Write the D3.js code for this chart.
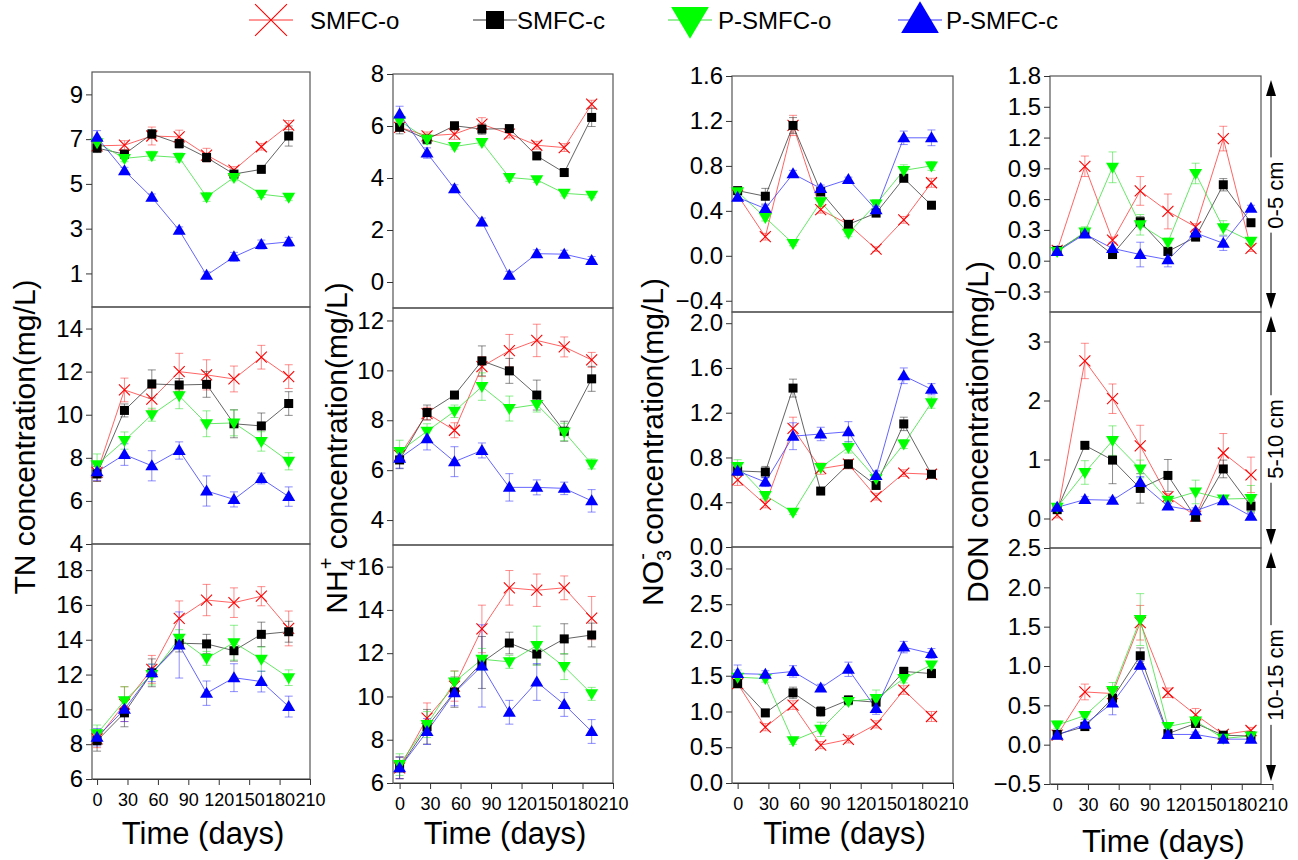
<html>
<head>
<meta charset="utf-8">
<script src="https://cdn.jsdelivr.net/npm/d3@7"></script>
<style>
    body { margin: 0; background: white; }
    text { font-family: Arial, "Liberation Sans", sans-serif; fill: black; }
    .axis path, .axis line { stroke: #333; stroke-width: 1; }
    rect.frame { fill: none; stroke: #555; stroke-width: 1.2; }
</style>
</head>
<body>
<script>
// ---- data ----
var series = ["SMFC-o", "SMFC-c", "P-SMFC-o", "P-SMFC-c"];
var days = [0, 27, 54, 81, 108, 135, 162, 189];
var xTicks = [0, 30, 60, 90, 120, 150, 180, 210];
var depths = ["0-5 cm", "5-10 cm", "10-15 cm"];

// TN
var tn_0_5 = [[6.7, 6.73, 7.14, 7.1, 6.29, 5.62, 6.66, 7.63],
              [6.6, 6.33, 7.23, 6.8, 6.18, 5.44, 5.65, 7.14],
              [6.84, 6.14, 6.26, 6.18, 4.42, 5.29, 4.54, 4.4],
              [7.08, 5.59, 4.4, 2.93, 0.92, 1.74, 2.29, 2.41]];
var tn_0_5_sd = [[0.2, 0.2, 0.4, 0.3, 0.3, 0.15, 0.15, 0.2],
                 [0.2, 0.15, 0.2, 0.2, 0.2, 0.1, 0.1, 0.45],
                 [0.25, 0.15, 0.2, 0.2, 0.2, 0.15, 0.15, 0.15],
                 [0.3, 0.15, 0.15, 0.15, 0.15, 0.2, 0.2, 0.2]];
var tn_5_10 = [[7.32, 11.15, 10.72, 12.0, 11.85, 11.66, 12.67, 11.77],
               [7.25, 10.2, 11.43, 11.38, 11.41, 9.58, 9.48, 10.52],
               [7.68, 8.8, 10.0, 10.88, 9.58, 9.62, 8.76, 7.84],
               [7.35, 8.15, 7.63, 8.34, 6.46, 6.07, 7.04, 6.2]];
var tn_5_10_sd = [[0.4, 0.55, 0.5, 0.85, 0.7, 0.6, 0.55, 0.55],
                  [0.35, 0.3, 0.65, 0.3, 0.6, 0.65, 0.6, 0.55],
                  [0.5, 0.4, 0.3, 0.6, 0.6, 0.6, 0.45, 0.4],
                  [0.4, 0.5, 0.7, 0.4, 0.7, 0.35, 0.25, 0.45]];
var tn_10_15 = [[8.3, 10.3, 12.3, 15.23, 16.28, 16.13, 16.5, 14.65],
                [8.2, 9.8, 12.1, 13.8, 13.76, 13.37, 14.31, 14.46],
                [8.6, 10.5, 12.0, 14.08, 12.93, 13.83, 12.88, 11.82],
                [8.4, 10.0, 12.1, 13.7, 10.93, 11.82, 11.6, 10.16]];
var tn_10_15_sd = [[0.5, 1.0, 0.8, 1.0, 0.9, 0.85, 0.55, 1.0],
                   [0.6, 0.8, 0.8, 0.5, 0.55, 0.6, 0.7, 0.6],
                   [0.5, 0.8, 0.6, 0.5, 0.4, 1.0, 0.7, 0.45],
                   [0.5, 0.7, 0.5, 1.9, 0.7, 0.8, 0.6, 0.6]];

// NH4+
var nh4_0_5 = [[5.95, 5.62, 5.69, 6.07, 5.69, 5.26, 5.17, 6.84],
               [5.95, 5.49, 6.01, 5.88, 5.9, 4.85, 4.21, 6.33],
               [6.2, 5.49, 5.21, 5.37, 4.02, 3.93, 3.41, 3.34],
               [6.46, 4.96, 3.59, 2.31, 0.26, 1.09, 1.07, 0.83]];
var nh4_0_5_sd = [[0.15, 0.15, 0.2, 0.25, 0.15, 0.15, 0.15, 0.15],
                  [0.25, 0.15, 0.1, 0.2, 0.1, 0.1, 0.1, 0.35],
                  [0.2, 0.2, 0.1, 0.1, 0.15, 0.1, 0.1, 0.1],
                  [0.3, 0.2, 0.15, 0.15, 0.15, 0.15, 0.15, 0.15]];
var nh4_5_10 = [[6.59, 8.27, 7.6, 10.15, 10.79, 11.2, 10.94, 10.42],
                [6.41, 8.31, 9.01, 10.38, 9.98, 9.01, 7.56, 9.66],
                [6.75, 7.56, 8.36, 9.35, 8.47, 8.63, 7.53, 6.25],
                [6.48, 7.26, 6.34, 6.79, 5.31, 5.31, 5.27, 4.77]];
var nh4_5_10_sd = [[0.3, 0.25, 0.3, 0.4, 0.65, 0.65, 0.4, 0.3],
                   [0.35, 0.3, 0.1, 0.6, 0.5, 0.6, 0.4, 0.5],
                   [0.45, 0.3, 0.25, 0.55, 0.5, 0.3, 0.35, 0.2],
                   [0.4, 0.45, 0.6, 0.3, 0.55, 0.3, 0.25, 0.45]];
var nh4_10_15 = [[6.7, 9.0, 10.48, 13.12, 15.02, 14.91, 15.02, 13.62],
                 [6.7, 8.6, 10.2, 11.57, 12.47, 11.96, 12.66, 12.84],
                 [6.85, 8.7, 10.67, 11.72, 11.6, 12.35, 11.38, 10.12],
                 [6.7, 8.38, 10.17, 11.41, 9.27, 10.67, 9.63, 8.38]];
var nh4_10_15_sd = [[0.5, 0.7, 0.7, 1.1, 0.8, 0.75, 0.55, 1.0],
                    [0.5, 0.8, 0.7, 1.2, 0.5, 0.5, 0.7, 0.55],
                    [0.5, 0.6, 0.5, 0.5, 0.3, 0.9, 0.6, 0.3],
                    [0.5, 0.6, 0.6, 1.9, 0.55, 0.85, 0.55, 0.55]];

// NO3-
var no3_0_5 = [[0.54, 0.17, 1.16, 0.41, 0.28, 0.06, 0.32, 0.65],
               [0.58, 0.53, 1.16, 0.57, 0.28, 0.38, 0.69, 0.45],
               [0.57, 0.34, 0.11, 0.48, 0.2, 0.46, 0.76, 0.8],
               [0.52, 0.42, 0.73, 0.6, 0.68, 0.41, 1.05, 1.05]];
var no3_0_5_sd = [[0.03, 0.03, 0.09, 0.03, 0.03, 0.02, 0.03, 0.04],
                  [0.03, 0.07, 0.07, 0.04, 0.03, 0.03, 0.03, 0.02],
                  [0.03, 0.03, 0.02, 0.04, 0.03, 0.04, 0.05, 0.04],
                  [0.03, 0.03, 0.03, 0.03, 0.02, 0.03, 0.06, 0.07]];
var no3_5_10 = [[0.6, 0.38, 1.06, 0.7, 0.74, 0.45, 0.66, 0.65],
                [0.68, 0.67, 1.42, 0.5, 0.74, 0.55, 1.1, 0.65],
                [0.72, 0.46, 0.31, 0.71, 0.89, 0.61, 0.92, 1.29],
                [0.68, 0.58, 0.99, 1.01, 1.03, 0.64, 1.53, 1.41]];
var no3_5_10_sd = [[0.05, 0.03, 0.1, 0.05, 0.04, 0.03, 0.03, 0.03],
                   [0.03, 0.05, 0.08, 0.03, 0.04, 0.03, 0.06, 0.03],
                   [0.06, 0.03, 0.02, 0.03, 0.05, 0.04, 0.04, 0.05],
                   [0.04, 0.04, 0.12, 0.06, 0.09, 0.04, 0.07, 0.05]];
var no3_10_15 = [[1.39, 0.78, 1.09, 0.53, 0.61, 0.82, 1.3, 0.93],
                 [1.39, 0.98, 1.26, 1.0, 1.16, 1.13, 1.56, 1.53],
                 [1.48, 1.46, 0.59, 0.75, 1.14, 1.18, 1.46, 1.65],
                 [1.53, 1.52, 1.56, 1.33, 1.59, 1.04, 1.9, 1.81]];
var no3_10_15_sd = [[0.05, 0.05, 0.06, 0.05, 0.05, 0.05, 0.06, 0.07],
                    [0.06, 0.05, 0.08, 0.07, 0.06, 0.05, 0.06, 0.05],
                    [0.1, 0.05, 0.05, 0.1, 0.05, 0.12, 0.06, 0.05],
                    [0.12, 0.05, 0.08, 0.05, 0.1, 0.08, 0.08, 0.07]];

// DON
var don_0_5 = [[0.1, 0.92, 0.2, 0.68, 0.48, 0.33, 1.19, 0.12],
               [0.1, 0.27, 0.06, 0.38, 0.09, 0.23, 0.74, 0.37],
               [0.09, 0.28, 0.91, 0.35, 0.18, 0.85, 0.32, 0.19],
               [0.09, 0.26, 0.12, 0.06, 0.01, 0.27, 0.17, 0.51]];
var don_0_5_sd = [[0.03, 0.1, 0.03, 0.14, 0.17, 0.03, 0.12, 0.03],
                  [0.03, 0.03, 0.02, 0.05, 0.03, 0.03, 0.06, 0.03],
                  [0.03, 0.05, 0.15, 0.1, 0.04, 0.1, 0.07, 0.03],
                  [0.03, 0.03, 0.06, 0.12, 0.07, 0.03, 0.07, 0.03]];
var don_5_10 = [[0.06, 2.67, 2.03, 1.23, 0.37, 0.04, 1.11, 0.74],
                [0.15, 1.24, 0.99, 0.51, 0.73, 0.02, 0.84, 0.21],
                [0.19, 0.78, 1.32, 0.84, 0.31, 0.45, 0.33, 0.34],
                [0.19, 0.32, 0.31, 0.61, 0.21, 0.13, 0.3, 0.04]];
var don_5_10_sd = [[0.05, 0.3, 0.25, 0.35, 0.05, 0.05, 0.33, 0.3],
                   [0.05, 0.05, 0.4, 0.25, 0.27, 0.03, 0.15, 0.1],
                   [0.05, 0.2, 0.25, 0.15, 0.05, 0.2, 0.05, 0.22],
                   [0.05, 0.05, 0.05, 0.1, 0.05, 0.05, 0.05, 0.05]];
var don_10_15 = [[0.12, 0.67, 0.65, 1.55, 0.66, 0.38, 0.13, 0.18],
                 [0.13, 0.23, 0.59, 1.13, 0.14, 0.27, 0.12, 0.11],
                 [0.25, 0.37, 0.69, 1.59, 0.23, 0.3, 0.08, 0.11],
                 [0.12, 0.26, 0.53, 1.01, 0.13, 0.13, 0.07, 0.07]];
var don_10_15_sd = [[0.05, 0.1, 0.05, 0.22, 0.06, 0.08, 0.03, 0.04],
                    [0.03, 0.03, 0.1, 0.1, 0.03, 0.03, 0.03, 0.03],
                    [0.05, 0.05, 0.1, 0.33, 0.05, 0.05, 0.03, 0.03],
                    [0.03, 0.03, 0.15, 0.05, 0.03, 0.03, 0.03, 0.03]];

// y ranges and ticks, per column then per depth row
var yDomains = [[[-0.5, 10], [4, 15], [6, 19.5]],
                [[-1, 8], [3, 12.5], [6, 17]],
                [[-0.5, 1.6], [0, 2.1], [0, 3.3]],
                [[-0.5, 1.8], [-0.5, 3.5], [-0.5, 2.5]]];
var yTicks = [[[1, 3, 5, 7, 9], [4, 6, 8, 10, 12, 14], [6, 8, 10, 12, 14, 16, 18]],
              [[0, 2, 4, 6, 8], [4, 6, 8, 10, 12], [6, 8, 10, 12, 14, 16]],
              [[-0.4, 0, 0.4, 0.8, 1.2, 1.6], [0, 0.4, 0.8, 1.2, 1.6, 2.0], [0, 0.5, 1, 1.5, 2, 2.5, 3]],
              [[-0.3, 0, 0.3, 0.6, 0.9, 1.2, 1.5, 1.8], [0, 1, 2, 3], [-0.5, 0, 0.5, 1, 1.5, 2, 2.5]]];
var yFormats = [["d", "d", "d"], ["d", "d", "d"], [".1f", ".1f", ".1f"], [".1f", "d", ".1f"]];

var panelData = [[tn_0_5, tn_5_10, tn_10_15],
                 [nh4_0_5, nh4_5_10, nh4_10_15],
                 [no3_0_5, no3_5_10, no3_10_15],
                 [don_0_5, don_5_10, don_10_15]];
var panelSd = [[tn_0_5_sd, tn_5_10_sd, tn_10_15_sd],
               [nh4_0_5_sd, nh4_5_10_sd, nh4_10_15_sd],
               [no3_0_5_sd, no3_5_10_sd, no3_10_15_sd],
               [don_0_5_sd, don_5_10_sd, don_10_15_sd]];

// ---- layout ----
var colors = ["#ff0000", "#000000", "#00ff00", "#0000ff"];
var lineColors = ["#ff3030", "#303030", "#30e030", "#3030ff"];

// frame left/right, x value at left edge, pixel of day 210, row edges
var cols = [
    {left: 92,   right: 310,  x0: -5,   x210: 310,    rows: [72, 307, 544, 779]},
    {left: 393,  right: 613,  x0: -6.5, x210: 613,    rows: [74, 308, 545, 783]},
    {left: 732,  right: 953,  x0: -5.5, x210: 953,    rows: [76, 312, 547, 783]},
    {left: 1050, right: 1261, x0: -7,   x210: 1272.5, rows: [76, 312, 548, 784]}
];

var svg = d3.select("body").append("svg")
    .attr("width", 1298)
    .attr("height", 860);

svg.append("rect").attr("width", 1298).attr("height", 860).attr("fill", "white");

/*
 * Draw one marker of series k centred at (cx, cy), scaled by s
 */
function drawMarker(g, k, cx, cy, s)
{
    if (k == 0)
    {
        var r = 5.5 * s;
        g.append("path")
            .attr("d", "M" + (cx - r) + "," + (cy - r) + "L" + (cx + r) + "," + (cy + r) +
                       "M" + (cx - r) + "," + (cy + r) + "L" + (cx + r) + "," + (cy - r))
            .attr("fill", "none")
            .attr("stroke", colors[0])
            .attr("stroke-width", 1.1);
    }
    else if (k == 1)
    {
        var a = 9 * s;
        g.append("rect")
            .attr("x", cx - a / 2).attr("y", cy - a / 2)
            .attr("width", a).attr("height", a)
            .attr("fill", colors[1]);
    }
    else
    {
        var w = 6.5 * s, h1 = 4.5 * s, h2 = 6.5 * s;
        var pts = (k == 2)
            ? [[cx - w, cy - h1], [cx + w, cy - h1], [cx, cy + h2]]
            : [[cx - w, cy + h1], [cx + w, cy + h1], [cx, cy - h2]];
        g.append("path")
            .attr("d", "M" + pts.join("L") + "Z")
            .attr("fill", colors[k]);
    }
}

// ---- panels ----
cols.forEach(function(col, c)
{
    var x = d3.scaleLinear().domain([col.x0, 210]).range([col.left, col.x210]);

    for (var r = 0; r < 3; r++)
    {
        var top = col.rows[r], bottom = col.rows[r + 1];
        var y = d3.scaleLinear().domain(yDomains[c][r]).range([bottom, top]);
        var g = svg.append("g").attr("class", "panel");

        g.append("rect")
            .attr("class", "frame")
            .attr("x", col.left).attr("y", top)
            .attr("width", col.right - col.left).attr("height", bottom - top);

        var ya = g.append("g")
            .attr("class", "axis")
            .attr("transform", "translate(" + col.left + ",0)")
            .call(d3.axisLeft(y).tickValues(yTicks[c][r]).tickFormat(d3.format(yFormats[c][r]))
                    .tickSize(6).tickSizeOuter(0).tickPadding(3));
        ya.selectAll("text").style("font-size", "24px").attr("font-family", null);
        ya.select(".domain").remove();

        if (r == 2)
        {
            var xa = g.append("g")
                .attr("class", "axis")
                .attr("transform", "translate(0," + bottom + ")")
                .call(d3.axisBottom(x).tickValues(xTicks).tickSize(6).tickSizeOuter(0).tickPadding(8));
            xa.selectAll("text").style("font-size", "18px").attr("font-family", null);
        }

        var vals = panelData[c][r], sds = panelSd[c][r];
        for (var k = 0; k < 4; k++)
        {
            var pts = days.map(function(d, i) { return [d, vals[k][i], sds[k][i]]; });

            // error bars
            var eg = g.append("g").attr("stroke", lineColors[k]).attr("stroke-opacity", 0.55).attr("stroke-width", 1);
            pts.forEach(function(p)
            {
                var px = x(p[0]), yl = y(p[1] - p[2]), yh = y(p[1] + p[2]);
                eg.append("line").attr("x1", px).attr("x2", px).attr("y1", yl).attr("y2", yh);
                eg.append("line").attr("x1", px - 4).attr("x2", px + 4).attr("y1", yl).attr("y2", yl);
                eg.append("line").attr("x1", px - 4).attr("x2", px + 4).attr("y1", yh).attr("y2", yh);
            });

            g.append("path")
                .datum(pts)
                .attr("fill", "none")
                .attr("stroke", lineColors[k])
                .attr("stroke-opacity", 0.75)
                .attr("stroke-width", 1)
                .attr("d", d3.line().x(function(p) { return x(p[0]); }).y(function(p) { return y(p[1]); }));
        }
        for (var k = 0; k < 4; k++)
        {
            days.forEach(function(d, i) { drawMarker(g, k, x(d), y(vals[k][i]), 1); });
        }
    }

    // x axis title
    svg.append("text")
        .attr("x", (col.left + col.x210) / 2 + 2)
        .attr("y", c == 3 ? 852 : 844)
        .attr("text-anchor", "middle")
        .style("font-size", "31px")
        .text("Time (days)");
});

// ---- y axis titles (with sub/superscripts) ----
var yTitles = [
    {x: 24,  y: 437, parts: [["TN concentration(mg/L)"]]},
    {x: 336, y: 448, parts: [["NH"], ["4", "sub"], ["+", "sup"], [" concentration(mg/L)", "back"]]},
    {x: 652, y: 442, parts: [["NO"], ["3", "sub"], ["-", "sup"], [" concentration(mg/L)", "back"]]},
    {x: 977, y: 432, parts: [["DON concentration(mg/L)"]]}
];
yTitles.forEach(function(t)
{
    var txt = svg.append("text")
        .attr("transform", "translate(" + t.x + "," + t.y + ") rotate(-90)")
        .attr("text-anchor", "middle")
        .attr("dy", "0.36em")
        .style("font-size", "30px");
    t.parts.forEach(function(p)
    {
        var ts = txt.append("tspan").text(p[0]);
        if (p[1] == "sub") ts.attr("dy", 8).style("font-size", "20px");
        if (p[1] == "sup") ts.attr("dx", -10).attr("dy", -22).style("font-size", "20px");
        if (p[1] == "back") ts.attr("dy", 14);
    });
});

// ---- depth markers on the right ----
var ax = 1271;
depths.forEach(function(label, r)
{
    var top = cols[3].rows[r], bottom = cols[3].rows[r + 1];
    var mid = (top + bottom) / 2 + (r == 0 ? 1 : 9);
    var t = svg.append("text")
        .attr("transform", "translate(" + (ax + 4) + "," + mid + ") rotate(-90)")
        .attr("text-anchor", "middle")
        .attr("dy", "0.36em")
        .style("font-size", "22px")
        .text(label);
    var half = t.node().getComputedTextLength() / 2 + 4;
    var tipTop = top + 4, tipBot = bottom - 3;
    svg.append("line").attr("x1", ax).attr("x2", ax).attr("y1", tipTop + 12).attr("y2", mid - half).attr("stroke", "black");
    svg.append("line").attr("x1", ax).attr("x2", ax).attr("y1", mid + half).attr("y2", tipBot - 12).attr("stroke", "black");
    svg.append("path").attr("d", "M" + ax + "," + tipTop + "L" + (ax - 5) + "," + (tipTop + 16) + "L" + (ax + 5) + "," + (tipTop + 16) + "Z");
    svg.append("path").attr("d", "M" + ax + "," + tipBot + "L" + (ax - 5) + "," + (tipBot - 16) + "L" + (ax + 5) + "," + (tipBot - 16) + "Z");
});

// ---- legend ----
var legendX = [271, 495, 690, 920];
var legendTextX = [310, 517, 718, 946];
var lg = svg.append("g").attr("class", "legend");
series.forEach(function(name, k)
{
    lg.append("line")
        .attr("x1", legendX[k] - 22).attr("x2", legendX[k] + 22)
        .attr("y1", 20).attr("y2", 20)
        .attr("stroke", lineColors[k]).attr("stroke-width", 1);
    drawMarker(lg, k, legendX[k], 20, k == 1 ? 2 : 2.9);
    lg.append("text")
        .attr("x", legendTextX[k]).attr("y", 29)
        .style("font-size", "24px")
        .text(name);
});
</script>
</body>
</html>
